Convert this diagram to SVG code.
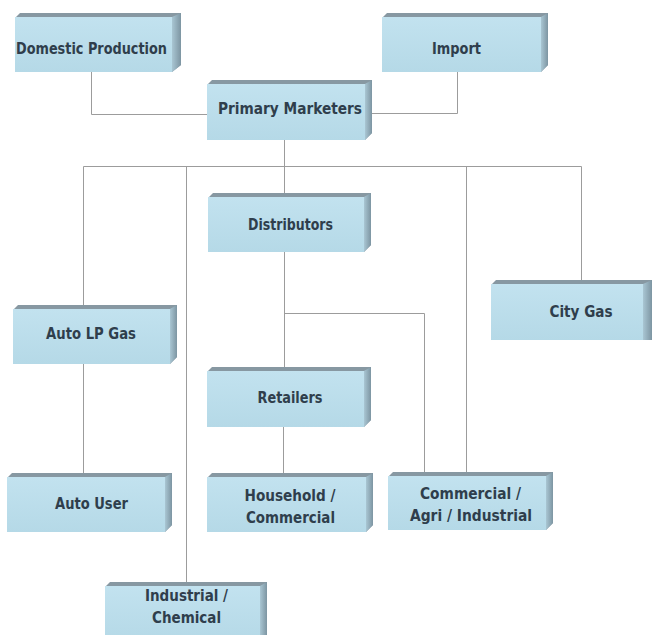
<svg xmlns="http://www.w3.org/2000/svg" width="652" height="635" viewBox="0 0 652 635">
<defs>
<linearGradient id="side" x1="0" y1="0" x2="1" y2="0">
<stop offset="0" stop-color="#a9c6d3"/>
<stop offset="1" stop-color="#7d95a2"/>
</linearGradient>
<linearGradient id="front" x1="0" y1="0" x2="0" y2="1">
<stop offset="0" stop-color="#c2e2ef"/>
<stop offset="1" stop-color="#b5d9e7"/>
</linearGradient>
<style>
.sil{fill:#8798a2}
.side{fill:url(#side)}
.face{fill:url(#front)}
.lbl{font-family:"DejaVu Sans Condensed","DejaVu Sans",sans-serif;font-stretch:condensed;font-weight:bold;font-size:15px;fill:#2f3e4c;text-anchor:middle}
.con{fill:none;stroke:#9c9c9c;stroke-width:1}
</style>
</defs>
<rect width="652" height="635" fill="#ffffff"/>
<g id="connectors">
<path class="con" d="M91.5 72V114.5H207"/>
<path class="con" d="M457.5 72V113.5H372"/>
<path class="con" d="M284.5 140V193"/>
<path class="con" d="M83.5 305V166.5H581.5V280"/>
<path class="con" d="M186.5 166.5V582"/>
<path class="con" d="M466.5 166.5V472"/>
<path class="con" d="M284.5 252V367"/>
<path class="con" d="M284.5 313.5H424.5V472"/>
<path class="con" d="M83.5 364V473"/>
<path class="con" d="M283.5 427V473"/>
</g>
<g id="domestic">
<path class="sil" d="M15 18L20 13H181V65L172 72H15Z"/>
<path class="side" d="M172 17L181 13V65L172 72Z"/>
<rect class="face" x="15" y="17" width="157" height="55"/>
<text class="lbl" x="91.5" y="53.5" textLength="151" lengthAdjust="spacingAndGlyphs">Domestic Production</text>
</g>
<g id="import">
<path class="sil" d="M382 18L387 13H548V65L541 72H382Z"/>
<path class="side" d="M541 17L548 13V65L541 72Z"/>
<rect class="face" x="382" y="17" width="159" height="55"/>
<text class="lbl" x="456.5" y="53.5" textLength="49" lengthAdjust="spacingAndGlyphs">Import</text>
</g>
<g id="primary">
<path class="sil" d="M207 85L212 80H372V133L365 140H207Z"/>
<path class="side" d="M365 84L372 80V133L365 140Z"/>
<rect class="face" x="207" y="84" width="158" height="56"/>
<text class="lbl" x="290" y="113.5" textLength="144" lengthAdjust="spacingAndGlyphs">Primary Marketers</text>
</g>
<g id="distributors">
<path class="sil" d="M208 198L213 193H371V245L364 252H208Z"/>
<path class="side" d="M364 197L371 193V245L364 252Z"/>
<rect class="face" x="208" y="197" width="156" height="55"/>
<text class="lbl" x="290.5" y="229.5" textLength="85" lengthAdjust="spacingAndGlyphs">Distributors</text>
</g>
<g id="autolpgas">
<path class="sil" d="M13 310L18 305H177V357L170 364H13Z"/>
<path class="side" d="M170 309L177 305V357L170 364Z"/>
<rect class="face" x="13" y="309" width="157" height="55"/>
<text class="lbl" x="91" y="338.5" textLength="90" lengthAdjust="spacingAndGlyphs">Auto LP Gas</text>
</g>
<g id="citygas">
<path class="sil" d="M491 285L496 280H652V340H491Z"/>
<path class="side" d="M643 284L652 280V340H643Z"/>
<rect class="face" x="491" y="284" width="152" height="56"/>
<text class="lbl" x="581" y="316.5" textLength="63" lengthAdjust="spacingAndGlyphs">City Gas</text>
</g>
<g id="retailers">
<path class="sil" d="M207 372L212 367H371V420L364 427H207Z"/>
<path class="side" d="M364 371L371 367V420L364 427Z"/>
<rect class="face" x="207" y="371" width="157" height="56"/>
<text class="lbl" x="290" y="402.5" textLength="65" lengthAdjust="spacingAndGlyphs">Retailers</text>
</g>
<g id="autouser">
<path class="sil" d="M7 478L12 473H172V525L165 532H7Z"/>
<path class="side" d="M165 477L172 473V525L165 532Z"/>
<rect class="face" x="7" y="477" width="158" height="55"/>
<text class="lbl" x="91.5" y="508.5" textLength="73" lengthAdjust="spacingAndGlyphs">Auto User</text>
</g>
<g id="household">
<path class="sil" d="M207 478L212 473H373V525L366 532H207Z"/>
<path class="side" d="M366 477L373 473V525L366 532Z"/>
<rect class="face" x="207" y="477" width="159" height="55"/>
<text class="lbl" x="290" y="500.5" textLength="91" lengthAdjust="spacingAndGlyphs">Household /</text>
<text class="lbl" x="290.5" y="522.5" textLength="89" lengthAdjust="spacingAndGlyphs">Commercial</text>
</g>
<g id="commercial">
<path class="sil" d="M388 477L393 472H553V523L546 530H388Z"/>
<path class="side" d="M546 476L553 472V523L546 530Z"/>
<rect class="face" x="388" y="476" width="158" height="54"/>
<text class="lbl" x="470.5" y="498.5" textLength="101" lengthAdjust="spacingAndGlyphs">Commercial /</text>
<text class="lbl" x="471" y="520.5" textLength="122" lengthAdjust="spacingAndGlyphs">Agri / Industrial</text>
</g>
<g id="industrial">
<path class="sil" d="M105 587L110 582H267V640H105Z"/>
<path class="side" d="M260 586L267 582V640H260Z"/>
<rect class="face" x="105" y="586" width="155" height="54"/>
<text class="lbl" x="186.5" y="600.5" textLength="83" lengthAdjust="spacingAndGlyphs">Industrial /</text>
<text class="lbl" x="186.5" y="622.5" textLength="69" lengthAdjust="spacingAndGlyphs">Chemical</text>
</g>
</svg>
